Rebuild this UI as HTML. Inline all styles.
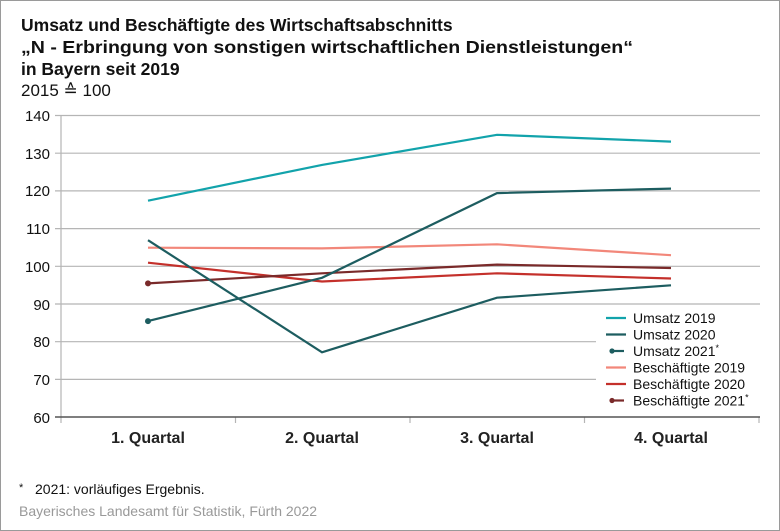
<!DOCTYPE html>
<html><head><meta charset="utf-8"><style>
body{margin:0;background:#fff;}
svg{display:block;font-family:"Liberation Sans",Arial,sans-serif;}
</style></head><body>
<svg width="780" height="531" viewBox="0 0 780 531" xmlns="http://www.w3.org/2000/svg">
<rect x="0.5" y="0.5" width="779" height="530" fill="#fff" stroke="#9a9a9a" stroke-width="1"/>
<g font-weight="bold" font-size="17.5" fill="#111">
<text x="21" y="31">Umsatz und Beschäftigte des Wirtschaftsabschnitts</text>
<text x="21" y="53" textLength="612" lengthAdjust="spacingAndGlyphs">„N - Erbringung von sonstigen wirtschaftlichen Dienstleistungen“</text>
<text x="21" y="75">in Bayern seit 2019</text>
</g>
<text x="21" y="96" font-size="17" fill="#111">2015 ≙ 100</text>
<g stroke="#b5b5b5" stroke-width="1.2">
<line x1="55" y1="115.5" x2="760" y2="115.5"/>
<line x1="55" y1="153.2" x2="760" y2="153.2"/>
<line x1="55" y1="190.9" x2="760" y2="190.9"/>
<line x1="55" y1="228.6" x2="760" y2="228.6"/>
<line x1="55" y1="266.3" x2="760" y2="266.3"/>
<line x1="55" y1="304" x2="760" y2="304"/>
<line x1="55" y1="341.7" x2="760" y2="341.7"/>
<line x1="55" y1="379.4" x2="760" y2="379.4"/>
<line x1="61" y1="115" x2="61" y2="417"/>
<line x1="235.5" y1="417" x2="235.5" y2="423"/>
<line x1="410" y1="417" x2="410" y2="423"/>
<line x1="584.5" y1="417" x2="584.5" y2="423"/>
<line x1="759" y1="417" x2="759" y2="423"/>
<line x1="61" y1="417" x2="61" y2="423"/>
</g>
<line x1="55" y1="417" x2="760" y2="417" stroke="#555" stroke-width="1.5"/>
<g font-size="15" fill="#111" text-anchor="end">
<text x="50" y="121">140</text><text x="50" y="159">130</text><text x="50" y="196">120</text>
<text x="50" y="234">110</text><text x="50" y="272">100</text><text x="50" y="310">90</text>
<text x="50" y="347">80</text><text x="50" y="385">70</text><text x="50" y="423">60</text>
</g>
<g font-size="16" font-weight="bold" fill="#222" text-anchor="middle">
<text x="148" y="443">1. Quartal</text><text x="322" y="443">2. Quartal</text>
<text x="497" y="443">3. Quartal</text><text x="671" y="443">4. Quartal</text>
</g>
<g fill="none" stroke-width="2.2">
<polyline stroke="#f2877a" points="148,247.7 322,248.4 497,244.3 671,255.2"/>
<polyline stroke="#c4302b" points="148,262.7 322,281.5 497,273.3 671,278.5"/>
<polyline stroke="#7a2a2a" points="148,283.4 322,273.3 497,264.6 671,268"/>
<polyline stroke="#12a3ab" points="148,200.7 322,164.9 497,134.8 671,141.6"/>
<polyline stroke="#1d5d60" points="148,240.2 322,352.3 497,297.7 671,285.3"/>
<polyline stroke="#1d5d60" points="148,321.1 322,277.8 497,193.1 671,188.6"/>
</g>
<circle cx="148" cy="321.1" r="3" fill="#1d5d60"/>
<circle cx="148" cy="283.4" r="3" fill="#7a2a2a"/>
<rect x="596" y="308" width="170" height="106" fill="#fff"/>
<g stroke-width="2.2">
<line x1="606" y1="318" x2="626" y2="318" stroke="#12a3ab"/>
<line x1="606" y1="334.5" x2="626" y2="334.5" stroke="#1d5d60"/>
<line x1="612" y1="351" x2="624" y2="351" stroke="#1d5d60"/>
<line x1="606" y1="367.5" x2="626" y2="367.5" stroke="#f2877a"/>
<line x1="606" y1="384" x2="626" y2="384" stroke="#c4302b"/>
<line x1="612" y1="400.5" x2="624" y2="400.5" stroke="#7a2a2a"/>
</g>
<circle cx="612" cy="351" r="2.6" fill="#1d5d60"/>
<circle cx="612" cy="400.5" r="2.6" fill="#7a2a2a"/>
<g font-size="14" fill="#111">
<text x="633" y="323">Umsatz 2019</text>
<text x="633" y="339.5">Umsatz 2020</text>
<text x="633" y="356">Umsatz 2021<tspan font-size="9" dy="-5">*</tspan></text>
<text x="633" y="372.5">Beschäftigte 2019</text>
<text x="633" y="389">Beschäftigte 2020</text>
<text x="633" y="405.5">Beschäftigte 2021<tspan font-size="9" dy="-5">*</tspan></text>
</g>
<text x="19" y="494" font-size="14" fill="#111"><tspan font-size="11" dy="-3">*</tspan><tspan dy="3" x="35">2021: vorläufiges Ergebnis.</tspan></text>
<text x="19" y="516" font-size="14" fill="#999">Bayerisches Landesamt für Statistik, Fürth 2022</text>
</svg>
</body></html>
